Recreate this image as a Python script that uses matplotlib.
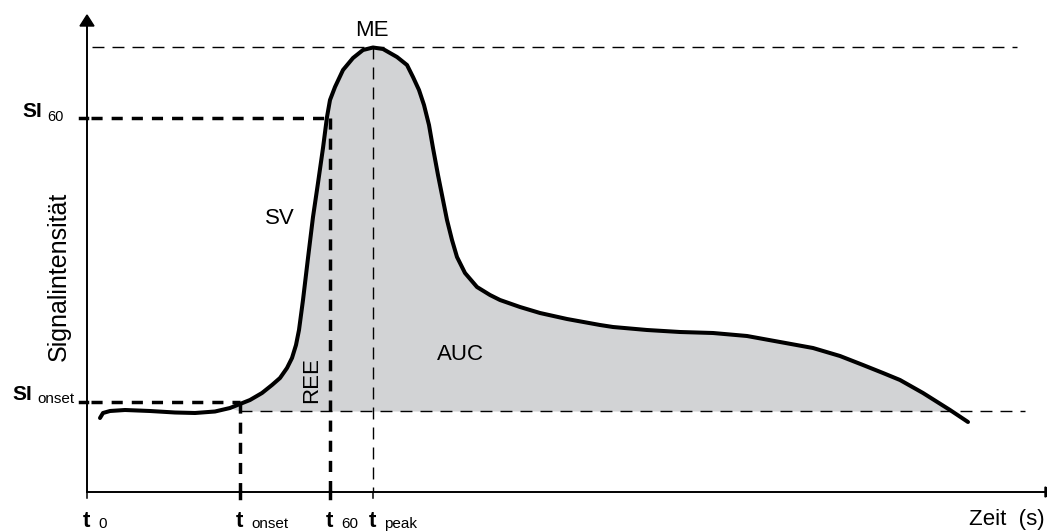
import numpy as np
import matplotlib.pyplot as plt

plt.rcParams['font.family'] = ['Liberation Sans', 'DejaVu Sans']

# Signal curve (schematic units: time along x, signal intensity along y)
time = np.array([13, 16, 23, 38, 63, 88, 108, 128, 143, 153, 163, 175, 185,
                 193, 200, 205, 209, 212, 214, 216, 221, 226, 231, 236, 240,
                 243, 248, 256, 266, 276, 286, 296, 310, 320, 326, 332, 337,
                 342, 346, 351, 356, 360, 365, 370, 378, 390, 403, 413, 433,
                 453, 480, 513, 526, 560, 593, 626, 660, 693, 726, 753, 776,
                 796, 813, 836, 863, 881])
signal = np.array([74, 79, 81, 82, 81, 79.5, 79, 80.5, 84, 88, 92, 99, 107,
                   114, 124, 134, 147, 162, 177, 192, 234, 275, 309, 344, 375,
                   392, 405, 422, 434, 442, 444.5, 443, 435, 427, 415, 402,
                   387, 367, 344, 317, 292, 272, 252, 235, 219, 205, 197, 192,
                   185, 179, 173, 167, 165, 162, 160, 159, 156, 150, 144, 136,
                   127, 119, 112, 99, 82, 70])

# characteristic values
t_onset, t_60, t_peak = 153, 243, 286
si_onset, si_60, me = 90, 374, 445
baseline = 81
t_end, si_top = 938, 466

W, H = 1047, 531
X0, Y0 = 87, 492

fig = plt.figure(figsize=(W / 100, H / 100), dpi=100)
ax = fig.add_axes([0, 0, 1, 1])
ax.set_xlim(-X0, W - X0)
ax.set_ylim(Y0 - H, Y0)
ax.axis('off')

bold_dash = dict(color='black', lw=2.5, linestyle=(0, (3.2, 2.6)),
                 dash_capstyle='butt', zorder=3)
thin_dash = dict(color='black', lw=1.0, linestyle=(0, (8.6, 5.8)),
                 dash_capstyle='butt', zorder=3)

# area under curve
mask = (time >= t_onset) & (signal >= baseline)
ax.fill_between(time, signal, baseline, where=mask, interpolate=True,
                color='#d2d3d5', lw=0, zorder=1)

# reference lines
ax.plot([5, t_end - 8], [me, me], **thin_dash)
ax.plot([t_peak, t_peak], [me, 0], **thin_dash)
ax.plot([t_onset, t_end], [baseline, baseline], **thin_dash)
ax.plot([4, t_60], [si_60, si_60], **bold_dash)
ax.plot([t_60, t_60], [si_60, 0], **bold_dash)
ax.plot([4, t_onset], [si_onset, si_onset], **bold_dash)
ax.plot([t_onset, t_onset], [si_onset, 0], **bold_dash)

# curve
ax.plot(time, signal, color='black', lw=2.9, solid_capstyle='round',
        solid_joinstyle='round', zorder=4)

# axes with arrows
ax.plot([0, 0], [0, si_top], color='black', lw=1.4, zorder=5)
ax.plot([0, t_end + 20], [0, 0], color='black', lw=1.4, zorder=5)
ax.fill([-7, 7, 0], [si_top, si_top, si_top + 11], color='black', zorder=5)
ax.fill([958, 958, 970], [-5, 5, 0], color='black', zorder=5)

# ticks
for t in [0, t_peak]:
    ax.plot([t, t], [0, -6], color='black', lw=1.1, zorder=5)
for t in [t_onset, t_60]:
    ax.plot([t, t], [0, -6], color='black', lw=2.5, zorder=5)
for s in [si_60, si_onset]:
    ax.plot([-7, 0], [s, s], color='black', lw=2.5, zorder=5)

# labels in the plot
ax.text(285, 462, 'ME', ha='center', va='center', fontsize=16)
ax.text(193, 274, 'SV', ha='center', va='center', fontsize=16)
ax.text(373, 137, 'AUC', ha='center', va='center', fontsize=16)
ax.text(225, 112, 'REE', ha='center', va='center', rotation=90, fontsize=16)
ax.text(-28, 300, 'Signalintensität', ha='center', va='top',
        rotation=90, fontsize=18)

# y labels
ax.text(-45, 375, 'SI', ha='right', va='baseline', fontsize=15,
        fontweight='bold')
ax.text(-40, 371, '60', ha='left', va='baseline', fontsize=10.5)
ax.text(-55, 92, 'SI', ha='right', va='baseline', fontsize=15,
        fontweight='bold')
ax.text(-50, 89, 'onset', ha='left', va='baseline', fontsize=11)

# x labels
x_labels = [(0, '0'), (t_onset, 'onset'), (t_60, '60'), (t_peak, 'peak')]
for t, sub in x_labels:
    ax.text(t - 4, -35, 't', ha='left', va='baseline', fontsize=16,
            fontweight='bold')
    ax.text(t + 11, -36, sub, ha='left', va='baseline', fontsize=11)
ax.text(958, -33, 'Zeit  (s)', ha='right', va='baseline', fontsize=16)

fig.savefig('out.png', dpi=100)
